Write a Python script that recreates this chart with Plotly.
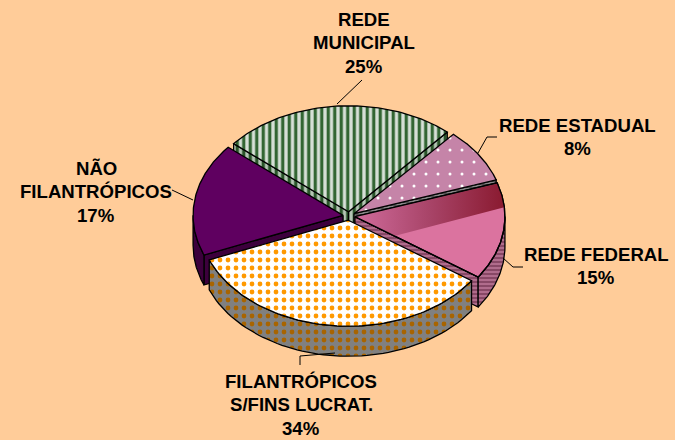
import numpy as np
import plotly.graph_objects as go

# Data
labels = ["REDE<br>MUNICIPAL", "REDE ESTADUAL", "REDE FEDERAL", "FILANTRÓPICOS<br>S/FINS LUCRAT.", "NÃO<br>FILANTRÓPICOS"]
values = [25.3, 8.4, 14.8, 34.2, 17.2]

# Geometry of the drawn pie, on axes that span the canvas
CX, CY, A, B, DEPTH, EXPLODE = 349, 216, 150, 106, 30, 6
START = -50
BG = "#FFCC99"
styles = [
    dict(top=dict(shape="|", fgcolor="#336633", bgcolor="#D8E0D8", size=6.5, solidity=0.5, fgopacity=1),
         wall=dict(shape="|", fgcolor="#2A552A", bgcolor="#B5C5B5", size=6.5, solidity=0.5, fgopacity=1)),
    dict(top=dict(shape=".", fgcolor="#FFFFFF", bgcolor="#C584A8", size=12, solidity=0.05, fgopacity=1),
         wall=dict(shape="-", fgcolor="#555555", bgcolor="#999999", size=3, solidity=0.5, fgopacity=1)),
    dict(top=dict(shape="", fgcolor="#DB739F", bgcolor="#DB739F"),
         wall=dict(shape="-", fgcolor="#7E3F5C", bgcolor="#B06C8C", size=4, solidity=0.4, fgopacity=1)),
    dict(top=dict(shape=".", fgcolor="#FF9900", bgcolor="#FFFFFF", size=8, solidity=0.28, fgopacity=1),
         wall=dict(shape=".", fgcolor="#A86400", bgcolor="#808080", size=8, solidity=0.28, fgopacity=1)),
    dict(top=dict(shape="", fgcolor="#5F0060", bgcolor="#5F0060"),
         wall=dict(shape="", fgcolor="#3C003C", bgcolor="#3C003C")),
]
draw_order = [0, 1, 2, 4, 3]

# Label placement (line centres)
label_x = [364, 577, 596, 301, 96]
label_y = [19, 125, 254, 381, 168]
LINE_H = 23.8

# Leader lines
leaders = [
    ([337, 362], [104, 80]),
    ([478, 487, 497], [153, 137, 137]),
    ([503, 513, 523], [258, 267, 267]),
    ([300, 300, 335], [365, 356, 353]),
    ([193, 172], [200, 190]),
]

total = sum(values)
edges = START + np.cumsum([0] + values) * 360.0 / total


def pt(cx, cy, t, dz=0.0):
    r = np.radians(t)
    return cx + A * np.sin(r), cy - B * np.cos(r) + dz


def poly(fig, xs, ys, style):
    kw = dict(fillcolor=style["bgcolor"])
    if style.get("shape"):
        kw["fillpattern"] = style
    fig.add_trace(go.Scatter(x=list(xs) + [xs[0]], y=list(ys) + [ys[0]], mode="lines", fill="toself",
                             line=dict(color="#000000", width=1.3), hoverinfo="skip", showlegend=False, **kw))


fig = go.Figure()
for i in draw_order:
    t0, t1 = edges[i], edges[i + 1]
    mid = np.radians((t0 + t1) / 2)
    cx = CX + EXPLODE * np.sin(mid)
    cy = CY - EXPLODE * B / A * np.cos(mid)
    st = styles[i]
    # radial cut faces
    for t, n in ((t0, t0 - 90), (t1, t1 + 90)):
        if np.cos(np.radians(n)) < 0:
            px, py = pt(cx, cy, t)
            poly(fig, [cx, px, px, cx], [cy, py, py + DEPTH, cy + DEPTH], st["wall"])
    # outer wall, front half only
    w0, w1 = max(t0, 90), min(t1, 270)
    if w1 > w0:
        ts = np.linspace(w0, w1, 60)
        xa, ya = pt(cx, cy, ts)
        poly(fig, np.r_[xa, xa[::-1]], np.r_[ya, ya[::-1] + DEPTH], st["wall"])
    # top face
    ts = np.linspace(t0, t1, 90)
    xa, ya = pt(cx, cy, ts)
    poly(fig, np.r_[cx, xa], np.r_[cy, ya], st["top"])
    # shaded band on the federal slice
    if i == 2:
        ts = np.linspace(t0, 85, 40)
        xa, ya = pt(cx, cy, ts)
        ex, ey = pt(cx, cy, t1)
        fx, fy = cx + 0.32 * (ex - cx), cy + 0.32 * (ey - cy)
        xs = np.r_[cx, xa, fx, cx]
        ys = np.r_[cy, ya, fy, cy]
        fig.add_trace(go.Scatter(x=xs, y=ys, mode="lines", fill="toself", line=dict(color="rgba(0,0,0,0)", width=0),
                                 fillgradient=dict(type="horizontal",
                                                   colorscale=[[0, "#D06C9C"], [0.5, "#A84468"], [1, "#8A1A30"]]),
                                 hoverinfo="skip", showlegend=False))
        xa, ya = pt(cx, cy, np.linspace(t0, t1, 90))
        fig.add_trace(go.Scatter(x=np.r_[cx, xa, cx], y=np.r_[cy, ya, cy], mode="lines",
                                 line=dict(color="#000000", width=1.3), hoverinfo="skip", showlegend=False))

for lx, ly in leaders:
    fig.add_trace(go.Scatter(x=lx, y=ly, mode="lines", line=dict(color="#000000", width=1),
                             hoverinfo="skip", showlegend=False))

annotations = []
for name, v, x, y in zip(labels, values, label_x, label_y):
    for k, line in enumerate(name.split("<br>") + [f"{round(v)}%"]):
        annotations.append(dict(x=x, y=y + k * LINE_H, text=f"<b>{line}</b>", showarrow=False, xanchor="center",
                                yanchor="middle", font=dict(family="Liberation Sans, Arial, sans-serif", size=18.6, color="#000000")))

fig.update_layout(
    width=675, height=440, margin=dict(l=0, r=0, t=0, b=0),
    paper_bgcolor=BG, plot_bgcolor=BG, showlegend=False, annotations=annotations,
    xaxis=dict(range=[0, 675], visible=False, fixedrange=True),
    yaxis=dict(range=[440, 0], visible=False, fixedrange=True),
)
fig.write_html("out.html", config={"displayModeBar": False},
               post_script="document.body.style.margin='0';document.body.style.overflow='hidden';")
